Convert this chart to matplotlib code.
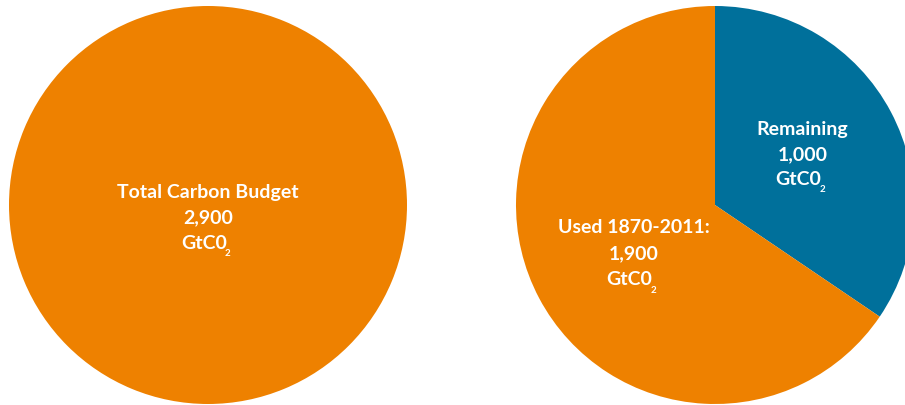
import matplotlib.pyplot as plt

plt.rcParams['font.family'] = ['Lato', 'DejaVu Sans']

# carbon budget, GtCO2
total_budget = [2900]
split_labels = ['Remaining', 'Used 1870-2011']
split_values = [1000, 1900]

orange = '#EE8100'
blue = '#00709B'

unit = 'GtC0'
total_lines = ['Total Carbon Budget', '2,900', unit]
remaining_lines = ['Remaining', '1,000', unit]
used_lines = ['Used 1870-2011:', '1,900', unit]

W, H = 905, 406
fig = plt.figure(figsize=(W / 100, H / 100), dpi=100)

R = 199
def pie_axes(cx, cy):
    # square axes of one pie diameter, positioned in pixel terms
    return fig.add_axes([(cx - R) / W, (H - cy - R) / H, 2 * R / W, 2 * R / H])

def put_lines(ax, x, y, lines, step=0.128):
    for i, s in enumerate(lines):
        last = i == len(lines) - 1
        t = ax.text(x - (0.02 if last else 0), y - i * step, s, ha='center',
                    va='center', color='white', fontsize=14, fontweight='bold')
        if last:
            # small subscript 2 hanging below the baseline
            ax.annotate('2', xy=(1, 0), xycoords=t, xytext=(-1.5, -3.5),
                        textcoords='offset points', ha='left', va='baseline',
                        color='white', fontsize=7, fontweight='bold')

ax1 = pie_axes(208, 206)
ax1.pie(total_budget, colors=[orange], startangle=90, radius=1,
        wedgeprops=dict(linewidth=0))
put_lines(ax1, 0, 0.07, total_lines)

ax2 = pie_axes(715, 206)
ax2.pie(split_values, colors=[blue, orange], startangle=90, counterclock=False,
        radius=1, wedgeprops=dict(linewidth=0))
put_lines(ax2, 0.44, 0.385, remaining_lines, step=0.125)
put_lines(ax2, -0.41, -0.11, used_lines, step=0.13)

for ax in (ax1, ax2):
    ax.set_xlim(-1, 1)
    ax.set_ylim(-1, 1)
    ax.set_aspect('equal')
    ax.axis('off')

fig.savefig('out.png', dpi=100)
